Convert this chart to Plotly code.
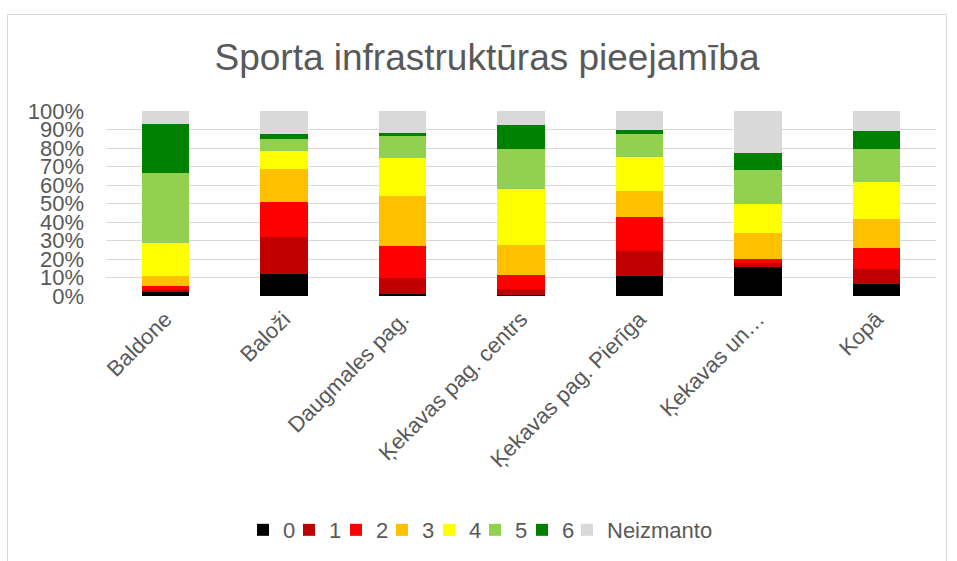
import plotly.graph_objects as go

categories = ["Baldone", "Baloži", "Daugmales pag.", "Ķekavas pag. centrs",
              "Ķekavas pag. Pierīga", "Ķekavas un…", "Kopā"]
series_names = ["0", "1", "2", "3", "4", "5", "6", "Neizmanto"]

s0 = [2.2, 11.9, 1.1, 0.3, 10.8, 15.7, 6.3]
s1 = [1.2, 20.1, 8.8, 3.5, 13.7, 2.4, 8.5]
s2 = [2.0, 18.9, 17.2, 7.6, 18.3, 1.9, 11.2]
s3 = [5.4, 17.5, 26.9, 16.4, 13.7, 13.8, 15.7]
s4 = [17.9, 10.1, 20.4, 29.8, 18.4, 16.0, 19.9]
s5 = [37.9, 6.3, 12.3, 21.6, 12.5, 18.3, 18.0]
s6 = [26.4, 2.6, 1.4, 13.4, 2.1, 9.2, 9.6]
s_neiz = [7.0, 12.6, 11.9, 7.4, 10.5, 22.7, 10.8]

colors = ["#000000", "#C00000", "#FF0000", "#FFC000", "#FFFF00", "#92D050", "#008000", "#D9D9D9"]
all_series = [s0, s1, s2, s3, s4, s5, s6, s_neiz]

FONT = "Liberation Sans, Arial, sans-serif"
TXT = "#595959"

W, H = 957, 561
# legend entry symbol centres (px), mimicking the compact Excel legend
legend_px = [263, 309, 356, 402, 449, 495, 542, 587]

fig = go.Figure()
legend_layout = {}
for i, (name, vals, col) in enumerate(zip(series_names, all_series, colors)):
    lname = "legend" if i == 0 else f"legend{i + 1}"
    fig.add_trace(go.Bar(
        name=name, x=categories, y=[v / 100 for v in vals],
        marker=dict(color=col, line=dict(width=0)),
        legend=lname,
    ))
    legend_layout[lname] = dict(
        orientation="h", xanchor="left", xref="container", x=(legend_px[i] - 20) / W,
        y=-1.265, yanchor="middle", font=dict(size=22, color=TXT),
        itemwidth=30, bgcolor="rgba(0,0,0,0)")

fig.update_layout(
    barmode="stack",
    bargap=0.6,
    width=W, height=H,
    margin=dict(l=106, r=21, t=111, b=265, autoexpand=False),
    paper_bgcolor="white", plot_bgcolor="white",
    font=dict(family=FONT, color=TXT, size=22),
    title=dict(text="Sporta infrastruktūras pieejamība", x=487 / W, y=1 - 57 / H,
               xanchor="center", yanchor="middle", xref="container", yref="container",
               font=dict(size=37, color=TXT, family=FONT)),
    showlegend=True,
    **legend_layout,
)
fig.update_yaxes(range=[0, 1], dtick=0.1, tickformat=".0%", showgrid=True,
                 gridcolor="#D9D9D9", gridwidth=1, zeroline=False, showline=False,
                 ticks="", ticklabelstandoff=21, tickfont=dict(size=22, color=TXT))
fig.update_xaxes(tickangle=-45, showgrid=False, showline=False, ticks="",
                 ticklabelstandoff=5, tickfont=dict(size=22, color=TXT))

# chart border (plot area spans 830 x 185 px)
fig.add_shape(type="rect", xref="paper", yref="paper",
              x0=(7.5 - 106) / 830, x1=(946.5 - 106) / 830,
              y0=-2.0, y1=1 + (111 - 14.5) / 185,
              line=dict(color="#D9D9D9", width=1), fillcolor="rgba(0,0,0,0)", layer="below")

fig.write_html("out.html", config={"displayModeBar": False},
               post_script="document.body.style.margin='0';")
